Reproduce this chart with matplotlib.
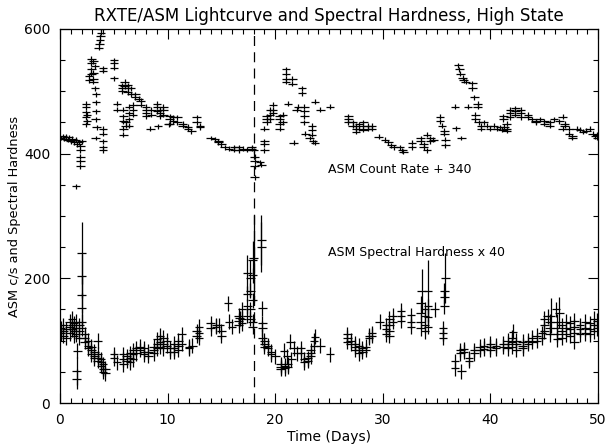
import matplotlib
matplotlib.use('Agg')
import matplotlib.pyplot as plt
from matplotlib.ticker import MultipleLocator

# ASM count rate + 340 (days, c/s)
rate_t = [0.1, 0.25, 0.4, 0.55, 0.7, 0.85, 1.0, 1.15, 1.3, 1.45, 1.6, 1.75, 1.9, 2.0,
          1.5, 1.9, 1.9, 1.9, 1.9,
          2.4, 2.4, 2.4, 2.4, 2.4, 2.5, 2.5,
          2.7, 2.7, 2.9, 2.9, 2.9, 2.9, 3.1, 3.1, 3.1, 3.1, 3.25, 3.25,
          3.35, 3.35, 3.35, 3.3, 3.4, 3.3,
          3.6, 3.65, 3.7, 3.75, 3.8, 3.8,
          4.0, 4.0, 4.0, 4.0, 4.0, 4.0, 4.0,
          5.0, 5.0, 5.0, 5.0, 5.3, 5.3,
          5.8, 5.8, 5.8, 6.0, 6.0, 6.3, 6.3, 6.3, 6.6, 6.6, 7.0, 7.0, 7.3,
          5.9, 5.9, 5.9, 5.9, 5.9, 6.1, 6.1, 6.4, 6.4, 6.4, 6.4, 6.8, 6.8, 6.8,
          7.5, 7.5, 8.0, 8.0, 8.5, 8.5, 8.0, 8.0, 8.4, 9.1,
          9.0, 9.0, 9.0, 9.3, 9.3, 9.3, 9.6, 9.6, 9.6,
          10.2, 10.2, 10.2, 10.5, 10.5, 10.9, 10.9, 10.1,
          11.4, 11.4, 11.9, 11.9, 12.2, 12.7, 12.7, 13.0, 13.0,
          14.0, 14.4, 14.7, 14.7, 15.0, 15.3, 15.7, 16.2, 16.2, 16.6, 16.6,
          17.0, 17.4, 17.8, 17.8, 18.0,
          18.1, 18.1, 18.1, 18.1, 18.6, 18.7,
          19.0, 19.0, 19.0, 19.0,
          19.2, 19.2, 19.2, 19.5, 19.5, 19.5, 19.8, 19.8, 19.8,
          20.4, 20.4, 20.4, 20.4, 20.7, 20.7,
          21.0, 21.0, 21.0, 21.0, 21.6, 21.6, 22.5, 22.5,
          21.2, 22.0, 22.1, 21.7,
          22.7, 22.7, 22.7, 22.7, 22.8, 23.2, 23.5, 23.7, 23.4, 23.4, 23.4,
          23.7, 24.2, 25.1,
          26.8, 26.8, 26.8, 27.2, 27.2, 27.5, 27.5, 27.5, 27.8, 27.8,
          28.2, 28.2, 28.2, 28.6, 28.6, 29.0, 29.0,
          29.6, 30.2, 30.5, 30.8, 31.0, 31.6, 31.8, 31.9, 32.7, 32.7,
          33.5, 33.5, 33.8, 33.8, 34.1, 34.1, 34.4, 34.4, 34.7,
          35.3, 35.3, 35.5, 35.7, 35.7, 35.8, 35.8,
          36.7, 36.8, 37.3,
          37.0, 37.1, 37.2, 37.4, 37.5, 37.7,
          38.3, 38.3, 38.5, 38.8, 38.8, 37.9,
          38.6, 38.6, 38.9, 39.1, 39.1,
          39.4, 39.7, 40.0, 40.3, 40.6, 40.9, 41.1, 41.3, 41.5, 41.5, 41.5,
          41.2, 41.2, 41.8, 41.8, 41.8, 42.3, 42.3, 42.3, 42.8, 42.8, 42.8,
          43.5, 43.5, 43.9, 44.2, 44.2,
          44.6, 45.0, 45.0, 45.5, 45.5, 45.9,
          46.7, 46.7, 46.4, 46.9, 46.9, 47.3, 47.3, 47.6, 47.6,
          48.0, 48.3, 48.6, 48.9, 49.2, 49.5, 49.7, 49.9, 49.9]
rate_v = [425, 428, 424, 427, 422, 426, 420, 424, 418, 422, 415, 418, 412, 420,
          348, 405, 395, 388, 380,
          447, 458, 466, 474, 480, 452, 462,
          518, 524, 528, 535, 545, 552, 548, 530, 520, 515, 505, 540,
          495, 482, 468, 455, 442, 425,
          570, 576, 582, 588, 594, 600,
          537, 533, 440, 432, 420, 410, 405,
          550, 545, 538, 521, 480, 470,
          510, 505, 500, 515, 508, 510, 505, 498, 505, 495, 495, 490, 488,
          470, 460, 452, 440, 430, 450, 445, 475, 465, 455, 445, 478, 470, 462,
          485, 478, 475, 470, 470, 462, 465, 460, 440, 444,
          480, 475, 468, 470, 465, 460, 475, 470, 462,
          460, 455, 448, 458, 452, 458, 450, 447,
          445, 448, 443, 440, 436, 458, 450, 445, 442,
          425, 423, 420, 418, 415, 410, 408, 410, 406, 410, 405,
          408, 406, 408, 410, 405,
          395, 388, 380, 362, 386, 382,
          440, 420, 415, 405,
          460, 455, 450, 470, 462, 455, 478, 470, 465,
          460, 455, 448, 440, 462, 450,
          535, 528, 520, 515, 520, 512, 505, 497,
          480, 470, 475, 417,
          475, 468, 460, 450, 432, 425, 420, 417, 445, 438, 430,
          483, 470, 475,
          460, 455, 450, 450, 445, 445, 440, 435, 447, 440,
          450, 445, 438, 445, 440, 445, 440,
          427, 422, 418, 413, 410, 410, 405, 403, 417, 410,
          425, 420, 415, 410, 405, 430, 425, 420, 422,
          459, 452, 445, 437, 432, 422, 413,
          475, 441, 425,
          542, 535, 528, 522, 518, 515,
          513, 505, 490, 480, 475, 475,
          462, 455, 450, 445, 440,
          450, 445, 440, 445, 440, 442, 438, 443, 440, 448, 437,
          460, 455, 470, 465, 458, 473, 468, 462, 470, 465, 458,
          462, 458, 455, 450, 452,
          455, 452, 448, 445, 450, 455,
          459, 440, 452, 448, 445, 440, 432, 428, 425,
          440, 438, 435, 437, 440, 432, 428, 425, 430]
rate_err = 4

# ASM spectral hardness x 40
hard_t = [0.1, 0.1, 0.3, 0.3, 0.3, 0.6, 0.6, 0.9, 0.9, 0.9, 1.1, 1.1, 1.1,
          1.3, 1.3, 1.3, 1.5, 1.5, 1.5, 1.8, 1.8, 1.8, 2.0, 2.0, 1.6,
          2.3, 2.3, 2.3, 2.6, 2.6, 2.6, 2.9, 2.9, 2.9, 3.2, 3.2, 3.2,
          3.5, 3.5, 3.5, 3.8, 3.8, 3.8, 4.0, 4.0, 4.0, 4.2, 4.2, 3.5,
          5.0, 5.0, 5.3,
          5.9, 5.9, 5.9, 6.2, 6.2, 6.5, 6.5, 6.5, 6.8, 6.8, 6.8, 7.1, 7.1,
          7.4, 7.4, 7.8, 7.8, 7.8, 8.2, 8.2,
          8.7, 8.7, 8.7, 9.0, 9.0, 9.0, 9.3, 9.3, 9.3, 9.6, 9.6, 9.6, 9.9, 9.9,
          10.2, 10.2, 10.6, 10.6, 10.6, 11.0, 11.0, 11.0, 11.3, 11.3,
          12.0, 12.0, 12.3, 12.7, 12.7, 12.9, 12.9, 12.9,
          14.0, 14.0, 14.5, 14.5, 14.8, 15.0, 15.0, 15.6, 15.7, 16.0,
          16.6, 16.6, 16.6, 16.9, 16.9, 16.9, 16.7,
          17.4, 17.4, 17.4, 17.7, 17.7, 17.7, 17.9, 17.9, 17.9, 17.9,
          18.8, 18.8, 18.8, 18.8, 19.0, 19.0, 19.0, 19.3, 19.3,
          19.6, 19.6, 20.0,
          20.5, 20.5, 20.5, 20.9, 20.9, 21.2, 21.2, 20.8, 21.1, 21.5,
          21.4, 21.7, 22.0,
          22.4, 22.4, 22.7, 22.7, 23.0, 23.0, 23.3, 23.3, 23.3, 23.6, 23.6,
          23.7, 24.2, 25.1,
          26.7, 26.7, 26.7, 27.0, 27.0,
          27.4, 27.4, 27.4, 27.8, 27.8, 27.8, 28.1, 28.1, 28.4, 28.4,
          28.7, 28.7, 29.0, 29.0, 29.7,
          30.3, 30.3, 30.3, 30.6, 30.6, 30.6, 30.6, 30.9, 30.9,
          31.7, 31.7, 31.7, 32.6, 32.6, 32.6,
          33.5, 33.5, 33.5, 33.5, 33.9, 33.9, 33.9, 33.9, 34.2, 34.2, 34.2,
          34.8, 35.7, 35.7, 35.7, 35.6, 35.6, 35.6,
          36.7, 36.7, 37.3,
          37.2, 37.2, 37.5, 37.5, 38.0, 38.0,
          38.5, 38.5, 39.0, 39.0, 39.4, 39.4,
          40.0, 40.0, 40.0, 40.5, 40.5,
          41.2, 41.2, 41.6, 41.6, 41.6, 42.0, 42.0, 42.0, 42.4, 42.4, 42.4, 42.1,
          43.0, 43.0, 43.0, 43.5, 43.5, 43.9, 43.9,
          44.3, 44.3, 44.8, 44.8,
          45.0, 45.0, 45.0, 45.5, 45.5, 45.5, 46.1, 45.3,
          46.2, 46.2, 46.2, 46.2, 46.6, 46.6, 46.6, 47.0, 47.0, 47.0,
          47.4, 47.4, 47.4, 47.8, 47.8, 47.8, 47.8,
          48.3, 48.3, 48.3, 48.8, 48.8, 48.8, 49.2, 49.2, 49.2,
          49.6, 49.6, 49.6, 49.9, 49.9]
hard_v = [120, 112, 125, 115, 108, 118, 105, 130, 122, 112, 135, 125, 118,
          128, 115, 108, 130, 120, 110, 125, 115, 105, 130, 120, 84,
          110, 105, 98, 100, 92, 88, 90, 85, 78, 82, 76, 72,
          78, 72, 68, 70, 65, 60, 62, 55, 50, 55, 48, 100,
          78, 72, 65,
          78, 70, 62, 75, 68, 80, 72, 65, 85, 78, 70, 88, 80,
          90, 85, 88, 82, 78, 82, 76,
          90, 85, 80, 102, 95, 88, 108, 98, 90, 105, 95, 88, 100, 92,
          88, 82, 95, 88, 82, 100, 92, 85, 110, 95,
          90, 88, 92, 115, 108, 122, 112, 105,
          128, 120, 125, 122, 125, 115, 108, 160, 130, 122,
          140, 132, 125, 150, 135, 128, 136,
          175, 155, 140, 180, 150, 135, 205, 165, 130, 122,
          152, 128, 120, 105, 100, 95, 90, 92, 88,
          82, 78, 75,
          62, 58, 55, 60, 56, 58, 62, 84, 75, 70,
          98, 88, 80,
          88, 80, 70, 65, 72, 68, 75, 80, 85, 92, 100,
          106, 92, 78,
          110, 105, 98, 100, 95,
          95, 90, 85, 92, 85, 80, 88, 82, 85, 90,
          108, 105, 112, 108, 130,
          125, 118, 110, 135, 125, 115, 108, 140, 130,
          148, 140, 132, 141, 130, 122,
          160, 145, 130, 120, 150, 140, 125, 115, 155, 138, 122,
          150, 180, 170, 155, 120, 112, 105,
          67, 56, 51,
          85, 80, 86, 82, 72, 68,
          85, 80, 90, 85, 92, 87,
          95, 90, 85, 92, 88,
          95, 90, 100, 95, 88, 105, 98, 90, 100, 94, 85, 114,
          98, 92, 88, 100, 95, 105, 98,
          108, 100, 112, 105,
          135, 125, 115, 130, 120, 110, 150, 139,
          130, 120, 110, 102, 125, 115, 105, 130, 120, 110,
          128, 118, 108, 132, 122, 112, 98,
          125, 118, 110, 130, 120, 112, 128, 118, 110,
          135, 125, 115, 132, 120]
hard_err = 12

# hardness points with large error bars
spike_t = [1.55, 1.55, 2.0, 2.0, 2.0, 2.0, 17.4, 17.7, 17.9, 18.0, 18.7, 18.7,
           33.6, 34.2, 35.8, 45.6, 46.4]
spike_v = [51, 38, 241, 204, 174, 152, 208, 200, 230, 232, 262, 250,
           180, 180, 200, 140, 145]
spike_err = [22, 16, 50, 35, 30, 25, 30, 30, 30, 70, 40, 40,
             35, 50, 40, 28, 25]

DASH_DAY = 18.0

fig = plt.figure(figsize=(6.06, 4.47), dpi=100)
ax = fig.add_axes([0.099, 0.0984, 0.888, 0.837])

kw = dict(fmt='none', ecolor='black', elinewidth=0.9, capsize=0)
ax.errorbar(rate_t, rate_v, xerr=0.4, yerr=rate_err, **kw)
ax.errorbar(hard_t, hard_v, xerr=0.4, yerr=hard_err, **kw)
ax.errorbar(spike_t, spike_v, xerr=0.4, yerr=spike_err, **kw)

ax.plot([DASH_DAY, DASH_DAY], [0, 600], color='black', lw=0.9, ls=(0, (8, 5)))

ax.text(24.9, 374, 'ASM Count Rate + 340', fontsize=9, va='center')
ax.text(24.9, 242, 'ASM Spectral Hardness x 40', fontsize=9, va='center')

ax.set_xlim(0, 50)
ax.set_ylim(0, 600)
ax.xaxis.set_major_locator(MultipleLocator(10))
ax.xaxis.set_minor_locator(MultipleLocator(1))
ax.yaxis.set_major_locator(MultipleLocator(200))
ax.yaxis.set_minor_locator(MultipleLocator(50))
ax.tick_params(which='both', direction='in', top=True, right=True, labelsize=10, width=0.8)
ax.tick_params(which='major', length=7, pad=7)
ax.tick_params(which='minor', length=3.5)
for s in ax.spines.values():
    s.set_linewidth(0.9)

ax.set_xlabel('Time (Days)', fontsize=10, labelpad=2)
ax.set_ylabel('ASM c/s and Spectral Hardness', fontsize=9.3, labelpad=2)
ax.set_title('RXTE/ASM Lightcurve and Spectral Hardness, High State', fontsize=12, pad=6)

fig.savefig('out.png', dpi=100)
